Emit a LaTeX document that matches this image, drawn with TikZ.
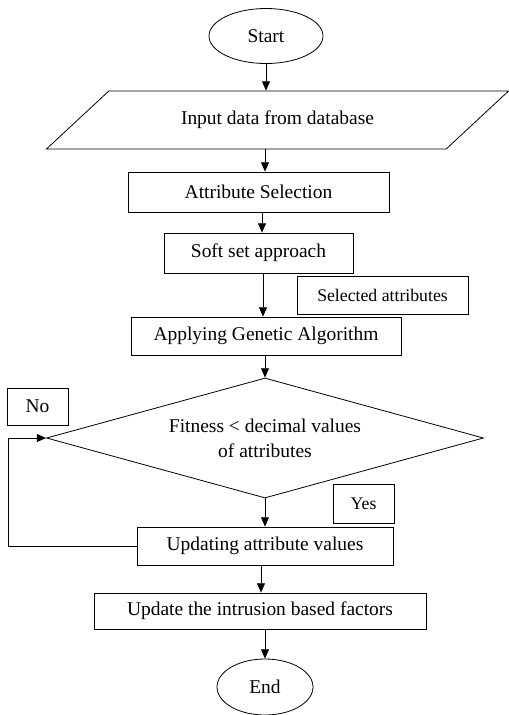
\documentclass[tikz,border=0pt]{standalone}
\usepackage{fontspec}
\setmainfont{Liberation Serif}
\usetikzlibrary{shapes.geometric,arrows.meta}

\begin{document}
\begin{tikzpicture}[x=0.75pt,y=-0.75pt,
	every node/.style={font=\fontsize{14.6}{18.75}\selectfont},
	box/.style={draw,line width=0.6pt,inner sep=0pt,align=center},
	tag/.style={box,font=\fontsize{13.3}{15}\selectfont},
	flow/.style={line width=0.6pt,-{Triangle[length=7pt,width=6pt]}}]
	\useasboundingbox (0,0) rectangle (509,715);
	% terminals and steps
	\node[box,ellipse,minimum width=85.5pt,minimum height=41.25pt] (start) at (266,36) {Start};
	\node[box,trapezium,trapezium left angle=26.6,trapezium right angle=153.4,trapezium stretches=true,minimum width=347.25pt,minimum height=43.5pt] (input) at (277.5,120) {Input data from database};
	\node[box,minimum width=195.75pt,minimum height=30pt] (attrsel) at (258.5,192) {Attribute Selection};
	\node[box,minimum width=141.75pt,minimum height=30pt] (softset) at (258.5,253) {Soft set approach};
	\node[tag,minimum width=128.25pt,minimum height=28.5pt] (selected) at (382.5,295) {Selected attributes};
	\node[box,minimum width=202.5pt,minimum height=28.5pt] (genetic) at (266,336) {Applying Genetic Algorithm};
	% decision
	\node[box,diamond,shape aspect=3.64,minimum width=327.75pt,minimum height=90pt] (fitness) at (265,438) {Fitness < decimal values\\of attributes};
	\node[box,minimum width=45.75pt,minimum height=27.75pt] (no) at (37.5,406.5) {No};
	\node[tag,minimum width=45.75pt,minimum height=29.25pt] (yes) at (363.5,503.5) {Yes};
	\node[box,minimum width=192pt,minimum height=28.5pt] (updating) at (265,546) {Updating attribute values};
	\node[box,minimum width=249pt,minimum height=27pt] (intrusion) at (260,611) {Update the intrusion based factors};
	\node[box,ellipse,minimum width=72pt,minimum height=42pt] (end) at (265,687) {End};
	% connectors
	\draw[flow] (start.south) -- (start.south |- input.north);
	\draw[flow] (input.south -| fitness) -- (attrsel.north -| fitness);
	\draw[flow] (attrsel.south -| 262,0) -- (softset.north -| 262,0);
	\draw[flow] (softset.south -| 263,0) -- (genetic.north -| 263,0);
	\draw[flow] (genetic.south -| fitness) -- (fitness.north);
	\draw[flow] (fitness.south) -- (updating.north -| fitness);
	\draw[flow] (updating.south -| 261,0) -- (intrusion.north -| 261,0);
	\draw[flow] (intrusion.south -| end) -- (end.north);
	% back to the test
	\draw[flow] (updating.west) -- ++(-128,0) |- (fitness.west);
\end{tikzpicture}
\end{document}
